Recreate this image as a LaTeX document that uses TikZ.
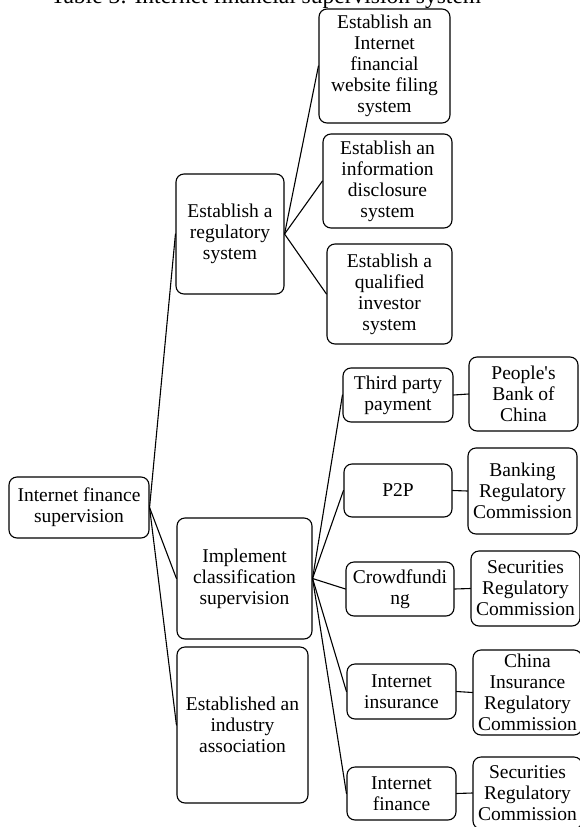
\documentclass[tikz,border=0pt]{standalone}
\usepackage{fontspec}
\setmainfont{Liberation Serif}
\tikzset{
	box/.style={draw, rounded corners=8pt, line width=1.1pt, align=center, inner sep=0pt,
		font=\fontsize{19.5}{21}\selectfont},
	link/.style={line width=1.1pt}
}
\begin{document}
\begin{tikzpicture}[x=1pt, y=-1pt, line join=round, line cap=round]
	\useasboundingbox (0,0) rectangle (579,827);
	\node [anchor=base, font=\fontsize{23.5}{26}\selectfont] (title) at (266,4) {Table 3: Internet financial supervision system};
	% root and second level
	\node [box, minimum width=140, minimum height=61] (root) at (79,507.5) {Internet finance\\supervision};
	\node [box, minimum width=108, minimum height=120] (reg) at (230,234) {Establish a\\regulatory\\system};
	\node [box, minimum width=135, minimum height=121] (cls) at (244.5,578.5) {Implement\\classification\\supervision};
	\node [box, minimum width=131, minimum height=156] (assoc) at (242.5,725) {Established an\\industry\\association};
	% regulatory system
	\node [box, minimum width=131, minimum height=114] (reg1) at (384.5,66) {Establish an\\Internet\\financial\\website filing\\system};
	\node [box, minimum width=129, minimum height=94] (reg2) at (387.5,181) {Establish an\\information\\disclosure\\system};
	\node [box, minimum width=125, minimum height=100] (reg3) at (389.5,294) {Establish a\\qualified\\investor\\system};
	% classification
	\node [box, minimum width=110, minimum height=54] (sub1) at (398,395) {Third party\\payment};
	\node [box, minimum width=108, minimum height=53] (sub2) at (398,490.5) {P2P};
	\node [box, minimum width=108, minimum height=54] (sub3) at (400,589) {Crowdfundi\\ng};
	\node [box, minimum width=109, minimum height=55] (sub4) at (401.5,691.5) {Internet\\insurance};
	\node [box, minimum width=109, minimum height=53] (sub5) at (401.5,793.5) {Internet\\finance};
	% departments
	\node [box, minimum width=109, minimum height=74] (dept1) at (523.5,394) {People\textquotesingle s\\Bank of\\China};
	\node [box, minimum width=109, minimum height=86] (dept2) at (522.5,491) {Banking\\Regulatory\\Commission};
	\node [box, minimum width=109, minimum height=75] (dept3) at (525.5,588.5) {Securities\\Regulatory\\Commission};
	\node [box, minimum width=109, minimum height=85] (dept4) at (527.5,692.5) {China\\Insurance\\Regulatory\\Commission};
	\node [box, minimum width=109, minimum height=72] (dept5) at (527.5,793) {Securities\\Regulatory\\Commission};
	% connectors
	\foreach \c in {reg,cls,assoc}
	\draw [link] (root.east) -- (\c.west);
	\foreach \c in {reg1,reg2,reg3}
	\draw [link] (reg.east) -- (\c.west);
	\foreach \i in {1,...,5}{
		\draw [link] (cls.east) -- (sub\i.west);
		\draw [link] (sub\i.east) -- (dept\i.west);
	}
\end{tikzpicture}
\end{document}
